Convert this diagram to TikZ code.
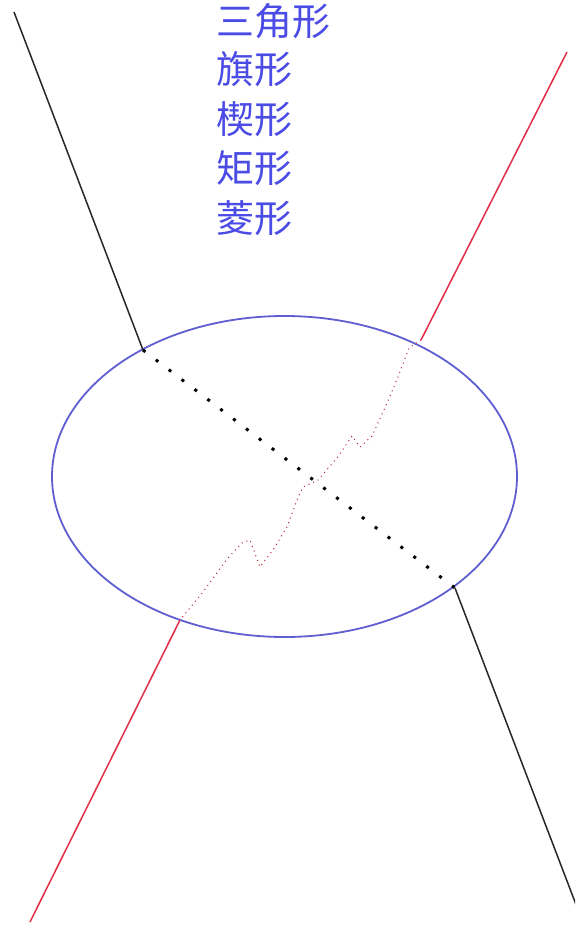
\documentclass[tikz,border=0pt]{standalone}
\usepackage{fontspec}
\newfontfamily\cjk{Noto Sans CJK SC}
\usetikzlibrary{shapes.geometric}
\definecolor{txtblue}{RGB}{75,75,230}
\definecolor{ringblue}{RGB}{95,95,210}
\definecolor{lnred}{RGB}{225,45,70}
\definecolor{lnblack}{RGB}{40,40,40}
\tikzset{
  label text/.style={anchor=west, inner sep=0pt, text=txtblue, font=\cjk\fontsize{38}{38}\selectfont},
  solid black/.style={draw=lnblack, line width=1.5pt},
  solid red/.style={draw=lnred, line width=1.5pt},
  dot black/.style={draw=black, line width=3pt, dash pattern=on 3pt off 13.2pt},
  dot red/.style={draw=lnred!80!black, line width=1pt, dash pattern=on 1pt off 4pt},
  tube/.style={ellipse, draw=ringblue, line width=1.8pt, minimum width=465pt, minimum height=321pt, inner sep=0pt}
}
\begin{document}
\begin{tikzpicture}[x=1pt,y=-1pt]
\useasboundingbox (0,0) rectangle (575,925);
\fill[white] (0,0) rectangle (575,925);
\clip (0,0) rectangle (575,925);
% labels
\node[label text] (t1) at (216,21) {三角形};
\node[label text] (t2) at (216,69) {旗形};
\node[label text] (t3) at (216,119) {楔形};
\node[label text] (t4) at (216,168) {矩形};
\node[label text] (t5) at (216,218) {菱形};
% ellipse
\node[tube] (ring) at (284.5,476.5) {};
% black line
\coordinate (b0) at (14,12);
\coordinate (b1) at (143,350);
\coordinate (b2) at (455,588);
\coordinate (b3) at (580,915);
\draw[solid black] (b0) -- (b1);
\draw[dot black] (b1) -- (b2);
\draw[solid black] (b2) -- (b3);
% red line
\coordinate (r0) at (567,52);
\coordinate (r1) at (421,340);
\coordinate (r2) at (180,620);
\coordinate (r3) at (30,922);
\draw[solid red] (r0) -- (r1);
\draw[solid red] (r2) -- (r3);
\draw[dot red] (r1) -- (409,348) -- (398,377) -- (388,401) -- (372,436) -- (360,447)
  -- (352,436) -- (337,458) -- (318,480) -- (303,487) -- (297,500) -- (287,527)
  -- (273,550) -- (260,567) -- (250,540) -- (242,543) -- (227,559) -- (203,592) -- (r2);
\end{tikzpicture}
\end{document}
